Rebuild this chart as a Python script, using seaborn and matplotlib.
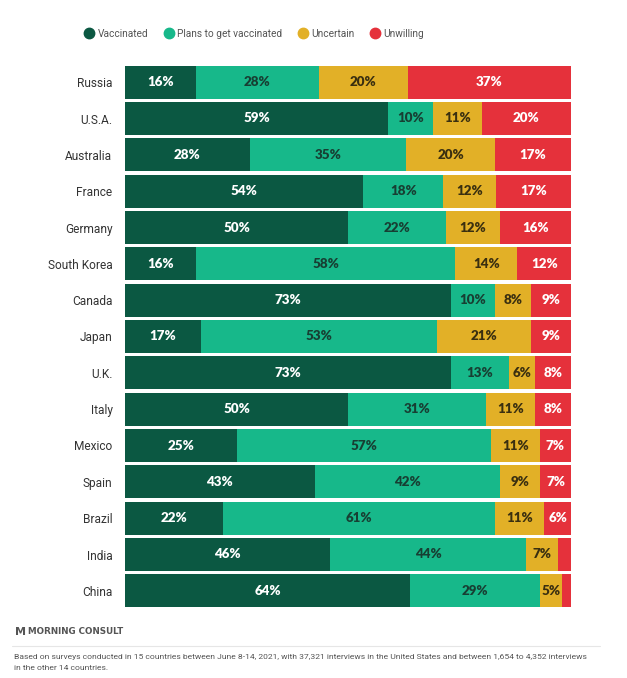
import matplotlib
matplotlib.use("Agg")
import matplotlib.pyplot as plt
import seaborn as sns
import numpy as np
import pandas as pd
from matplotlib.lines import Line2D

countries = ["Russia", "U.S.A.", "Australia", "France", "Germany", "South Korea", "Canada",
             "Japan", "U.K.", "Italy", "Mexico", "Spain", "Brazil", "India", "China"]
vaccinated = [16, 59, 28, 54, 50, 16, 73, 17, 73, 50, 25, 43, 22, 46, 64]
plans = [28, 10, 35, 18, 22, 58, 10, 53, 13, 31, 57, 42, 61, 44, 29]
uncertain = [20, 11, 20, 12, 12, 14, 8, 21, 6, 11, 11, 9, 11, 7, 5]
unwilling = [37, 20, 17, 17, 16, 12, 9, 9, 8, 8, 7, 7, 6, 3, 2]

series_names = ["Vaccinated", "Plans to get vaccinated", "Uncertain", "Unwilling"]
colors = ["#0b5842", "#17b88a", "#e2b027", "#e5313b"]
text_colors = ["white", "#173f33", "#3a2f10", "white"]

sns.set_theme(style="white")
plt.rcParams['font.family'] = ['Lato', 'DejaVu Sans']

fig = plt.figure(figsize=(6.27, 6.78), dpi=100)
ax = fig.add_axes([125/627, 1-609/678, 446/627, 545/678])

vals = np.array([vaccinated, plans, uncertain, unwilling], dtype=float)
cum = np.cumsum(vals, axis=0)
total = cum[-1]
scale = 100.0 / total  # normalise to full width
cum_n = cum * scale

df = pd.DataFrame({"country": countries})
for i in range(3, -1, -1):
    df["v"] = cum_n[i]
    sns.barplot(data=df, y="country", x="v", orient="h", color=colors[i],
                width=0.9, saturation=1, ax=ax, linewidth=0, order=countries)

starts = np.vstack([np.zeros(len(countries)), cum_n[:-1]])
for i in range(4):
    for j in range(len(countries)):
        v = vals[i, j]
        if v >= 5:
            xc = starts[i, j] + (cum_n[i, j] - starts[i, j]) / 2
            ax.text(xc, j, f"{int(v)}%", ha="center", va="center",
                    color=text_colors[i], fontsize=9.6, fontweight="heavy")

ax.set_xlim(0, 100)
ax.set_ylim(len(countries) - 0.5, -0.5)
ax.set_xlabel("")
ax.set_ylabel("")
ax.set_xticks([])
ax.tick_params(axis="y", length=0, pad=9, labelsize=8.6, labelcolor="#333333")
for lbl in ax.get_yticklabels():
    lbl.set_fontfamily(["Roboto", "DejaVu Sans"])
for s in ax.spines.values():
    s.set_visible(False)

handles = [Line2D([0], [0], marker="o", linestyle="", markersize=7.5,
                  markerfacecolor=c, markeredgecolor=c) for c in colors]
leg = fig.legend(handles, series_names, loc="center", ncol=4,
                 bbox_to_anchor=(254/627, 1-34/678), frameon=False,
                 handletextpad=0.35, columnspacing=1.5, handlelength=1.0,
                 prop={"family": ["Roboto", "DejaVu Sans"], "size": 7.3})
for t in leg.get_texts():
    t.set_color("#555555")

# footer
fig.text(15/627, 1-632/678, "M", fontsize=8, fontweight="bold", color="#555555",
         va="center", ha="left", family=["DejaVu Sans"])
fig.text(28/627, 1-632/678, "MORNING CONSULT", fontsize=6.3, fontweight="bold",
         color="#555555", va="center", ha="left", family=["DejaVu Sans"])
fig.add_artist(Line2D([12/627, 600/627], [1-646/678, 1-646/678], color="#e6e6e6", lw=0.8))
fig.text(14/627, 1-657/678,
         "Based on surveys conducted in 15 countries between June 8-14, 2021, with 37,321 interviews in the United States and between 1,654 to 4,352 interviews",
         fontsize=6.1, color="#555555", va="center", ha="left", family=["Roboto", "DejaVu Sans"])
fig.text(14/627, 1-668/678, "in the other 14 countries.",
         fontsize=6.1, color="#555555", va="center", ha="left", family=["Roboto", "DejaVu Sans"])

fig.savefig("out.png", dpi=100, facecolor="white")
